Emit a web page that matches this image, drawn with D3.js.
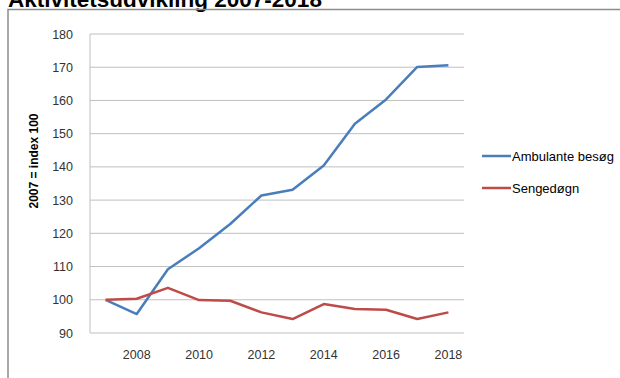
<!DOCTYPE html>
<html>
<head>
<meta charset="utf-8">
<script src="https://cdn.jsdelivr.net/npm/d3@7"></script>
<style>
  html, body { margin: 0; padding: 0; background: #fff; }
  svg { display: block; }
</style>
</head>
<body>
<svg id="chart" width="620" height="378"></svg>
<script>
const years = [2007, 2008, 2009, 2010, 2011, 2012, 2013, 2014, 2015, 2016, 2017, 2018];
const ambulante = [100, 95.7, 109.2, 115.5, 122.8, 131.4, 133.1, 140.4, 153, 160.3, 170.1, 170.6];
const sengedogn = [100, 100.3, 103.6, 99.9, 99.7, 96.2, 94.2, 98.7, 97.2, 97.0, 94.2, 96.2];
const yTicks = [90, 100, 110, 120, 130, 140, 150, 160, 170, 180];
const xTickLabels = [2008, 2010, 2012, 2014, 2016, 2018];
const seriesNames = ["Ambulante besøg", "Sengedøgn"];
const seriesColors = ["#4a7ebb", "#be4b48"];

(function () {
const svg = d3.select("#chart");
const pL = 90, pR = 464, pT = 34, pB = 333;

// title (cut off at top, as in the reference)
svg.append("text")
  .attr("x", 8).attr("y", 7)
  .attr("font-family", "Liberation Sans, Arial, sans-serif")
  .attr("font-weight", "bold").attr("font-size", 22.5)
  .attr("fill", "#000")
  .text("Aktivitetsudvikling 2007-2018");

// outer frame (top + left)
svg.append("path")
  .attr("d", `M8,378 L8,9.5 L620,9.5`)
  .attr("fill", "none").attr("stroke", "#8c8c8c").attr("stroke-width", 1.5);

const x = d3.scaleBand().domain(years).range([pL, pR]);
const y = d3.scaleLinear().domain([90, 180]).range([pB, pT]);

// gridlines
svg.append("g").selectAll("line").data(yTicks).join("line")
  .attr("x1", pL).attr("x2", pR)
  .attr("y1", d => y(d)).attr("y2", d => y(d))
  .attr("stroke", "#bfbfbf").attr("stroke-width", 1);

// left axis line
svg.append("line").attr("x1", pL).attr("x2", pL)
  .attr("y1", pT).attr("y2", pB)
  .attr("stroke", "#bfbfbf").attr("stroke-width", 1);

// y axis
const yAxis = svg.append("g").attr("transform", `translate(${pL},0)`)
  .call(d3.axisLeft(y).tickValues(yTicks).tickSize(0).tickPadding(17));
yAxis.select(".domain").remove();
yAxis.selectAll("text")
  .attr("font-family", "Liberation Sans, Arial, sans-serif")
  .attr("font-size", 12.5).attr("fill", "#333");

// x axis
const xAxis = svg.append("g").attr("transform", `translate(0,${pB})`)
  .call(d3.axisBottom(x).tickValues(xTickLabels).tickSize(0).tickPadding(17));
xAxis.select(".domain").remove();
xAxis.selectAll("text")
  .attr("font-family", "Liberation Sans, Arial, sans-serif")
  .attr("font-size", 12.5).attr("fill", "#333");

// y axis title
svg.append("text")
  .attr("transform", `translate(38,161) rotate(-90)`)
  .attr("text-anchor", "middle")
  .attr("font-family", "Liberation Sans, Arial, sans-serif")
  .attr("font-weight", "bold").attr("font-size", 12)
  .attr("fill", "#000")
  .text("2007 = index 100");

// lines
const line = d3.line().x((d, i) => x(years[i]) + x.bandwidth() / 2).y(d => y(d));
[ambulante, sengedogn].forEach((vals, k) => {
  svg.append("path").datum(vals)
    .attr("d", line)
    .attr("fill", "none")
    .attr("stroke", seriesColors[k])
    .attr("stroke-width", 2.5)
    .attr("stroke-linejoin", "round");
});

// legend
const legendY = [156, 188];
seriesNames.forEach((name, k) => {
  svg.append("line")
    .attr("x1", 482).attr("x2", 511)
    .attr("y1", legendY[k]).attr("y2", legendY[k])
    .attr("stroke", seriesColors[k]).attr("stroke-width", 2.5);
  svg.append("text")
    .attr("x", 512).attr("y", legendY[k]).attr("dy", "0.35em")
    .attr("font-family", "Liberation Sans, Arial, sans-serif")
    .attr("font-size", 13).attr("fill", "#000")
    .text(name);
});
})();
</script>
</body>
</html>
